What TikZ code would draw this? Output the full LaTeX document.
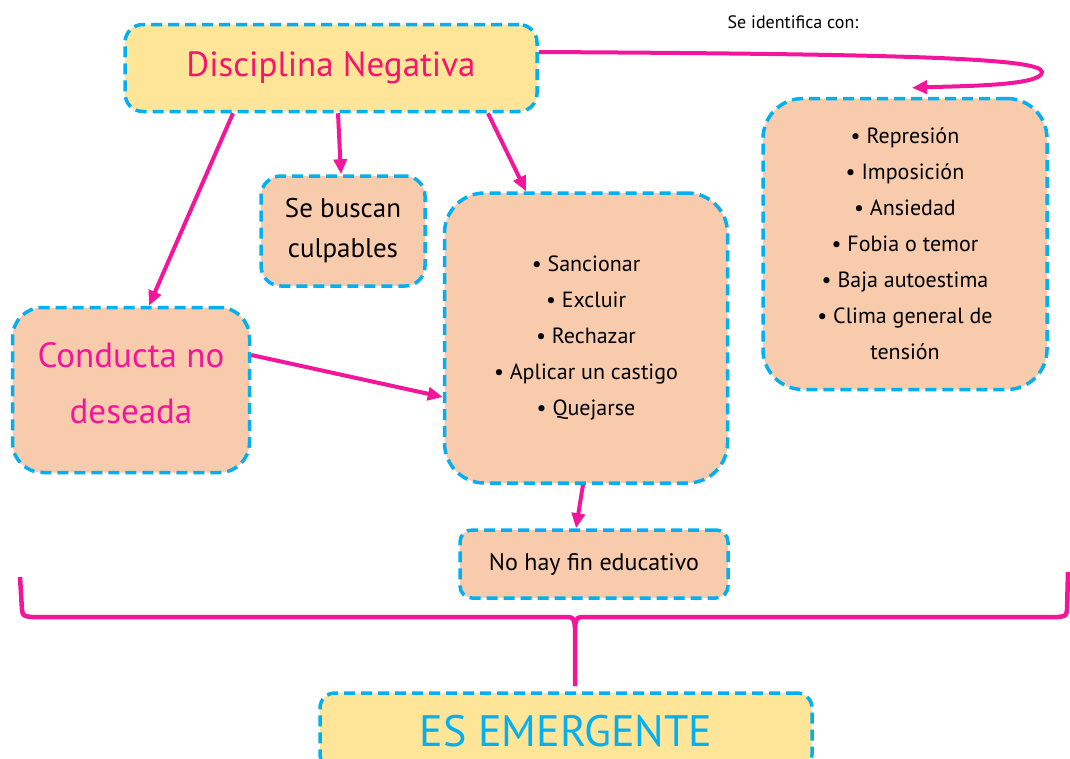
\documentclass[tikz,border=0pt]{standalone}
\usepackage{fontspec}
\setmainfont{PT Sans}
\usetikzlibrary{arrows.meta}
\definecolor{azul}{HTML}{00B0F0}
\definecolor{rosa}{HTML}{F3169B}
\definecolor{titulo}{HTML}{F5156C}
\definecolor{durazno}{HTML}{F8CBAD}
\definecolor{crema}{HTML}{FFE597}
\begin{document}
\begin{tikzpicture}[
                x = 1pt, y = -1pt,
                > = {Triangle[length=15pt, width=13pt]},
                semithick
                ]

                \tikzstyle{caja}=[
                        draw = azul,
                        line width = 3.5pt,
                        dash pattern = on 11pt off 6pt,
                        fill = durazno,
                        rounded corners = 30pt,
                        inner sep = 0pt,
                        align = center
                ]
                \tikzstyle{flecha}=[
                        ->,
                        draw = rosa,
                        line width = 4pt
                ]

                \useasboundingbox (0,0) rectangle (1070,758);

                \node[caja, fill = crema, rounded corners = 18pt, minimum width = 412pt, minimum height = 87pt,
                      text = titulo, font = \fontsize{35}{38}\selectfont] (dn) at (331,68) {Disciplina Negativa};
                \node[caja, rounded corners = 20pt, minimum width = 164pt, minimum height = 110pt,
                      font = \fontsize{27}{40}\selectfont] (sb) at (343,231) {Se buscan\\culpables};
                \node[caja, minimum width = 237pt, minimum height = 165pt, text = rosa,
                      font = \fontsize{35}{56}\selectfont] (cn) at (131,390) {Conducta no\\deseada\\[-42pt]};
                \node[caja, rounded corners = 40pt, minimum width = 283pt, minimum height = 290pt,
                      font = \fontsize{22}{36}\selectfont] (mb) at (586,338)
                      {\textbullet\ Sancionar\\\textbullet\ Excluir\\\textbullet\ Rechazar\\
                       \textbullet\ Aplicar un castigo\\\textbullet\ Quejarse};
                \node[caja, rounded corners = 40pt, minimum width = 284pt, minimum height = 291pt,
                      font = \fontsize{22}{36}\selectfont] (rb) at (905,244)
                      {\textbullet\ Represión\\\textbullet\ Imposición\\\textbullet\ Ansiedad\\
                       \textbullet\ Fobia o temor\\\textbullet\ Baja autoestima\\
                       \textbullet\ Clima general de\\tensión};
                \node[caja, rounded corners = 12pt, minimum width = 268pt, minimum height = 68pt,
                      font = \fontsize{24}{28}\selectfont] (nh) at (594,564) {No hay fin educativo};
                \node[caja, fill = crema, rounded corners = 15pt, minimum width = 492pt, minimum height = 76pt,
                      text = azul, font = \fontsize{44}{48}\selectfont] (es) at (566,731) {ES EMERGENTE};
                \node[font = \fontsize{18}{20}\selectfont] (si) at (793,22) {Se identifica con:};

                \draw[flecha] ([xshift=-98pt]dn.south) -- ([xshift=18pt]cn.north);
                \draw[flecha] ([xshift=7pt]dn.south) -- ([xshift=-2pt]sb.north);
                \draw[flecha] ([xshift=157pt]dn.south) -- ([xshift=-60pt]mb.north);
                \draw[flecha] ([yshift=35pt]cn.east) -- ([yshift=-59pt]mb.west);
                \draw[flecha] ([xshift=-3pt]mb.south) -- ([xshift=-18pt]nh.north);
                \draw[flecha] ([yshift=16pt]dn.east) .. controls (900,54) and (1042,58) .. (1042,72)
                        .. controls (1042,86) and (960,86) .. ([xshift=7pt, yshift=9pt]rb.north);

                % llave
                \coordinate (pico) at (575,686);
                \draw[rosa, line width = 4.5pt, line join = round]
                        (20,577) -- (22,610) .. controls (23,616) .. (32,617) -- (562,617)
                        .. controls (574,617) .. (575,628) -- (pico);
                \draw[rosa, line width = 4.5pt, line join = round]
                        (575,628) .. controls (576,617) .. (588,617) -- (1058,617)
                        .. controls (1066,616) .. (1067,610) -- (1068,572);
\end{tikzpicture}
\end{document}
